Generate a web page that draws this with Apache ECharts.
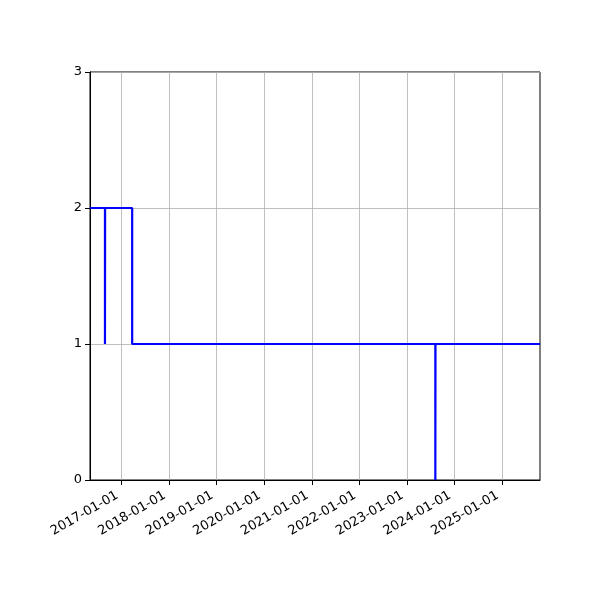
<!DOCTYPE html>
<html>
<head>
<meta charset="utf-8">
<script src="https://cdn.jsdelivr.net/npm/echarts@6/dist/echarts.min.js"></script>
<style>html,body{margin:0;padding:0;background:#fff}#c{width:600px;height:600px}</style>
</head>
<body>
<div id="c"></div>
<script>
var dates = ['2016-05-03','2016-08-26','2016-08-27','2017-03-23','2023-08-08','2023-08-09','2025-10-20'];
var values = [2, 1, 2, 1, 0, 1, 1];
var tickDates = ['2017-01-01','2018-01-01','2019-01-01','2020-01-01','2021-01-01','2022-01-01','2023-01-01','2024-01-01','2025-01-01'];
var yTicks = [0, 1, 2, 3];
var xMin = '2016-05-03', xMax = '2025-10-20';

function ts(s){ return new Date(s + 'T00:00:00Z').getTime(); }
var tickTs = tickDates.map(ts);
var seriesData = dates.map(function(d, i){ return [ts(d), values[i]]; });

var chart = echarts.init(document.getElementById('c'));
chart.setOption({
  animation: false,
  grid: {left: 90, right: 60, top: 72, bottom: 120, show: true, borderColor: '#000', borderWidth: 1, backgroundColor: 'transparent'},
  xAxis: {
    type: 'value', scale: true,
    min: ts(xMin), max: ts(xMax),
    axisLine: {show: true, onZero: false, lineStyle: {color: '#000', width: 1}},
    axisTick: {show: true, customValues: tickTs, length: 5, lineStyle: {color: '#000'}},
    axisLabel: {
      customValues: tickTs, rotate: 30, color: '#000', fontSize: 13, fontFamily: 'DejaVu Sans', margin: 12,
      padding: [0, 5, 0, 0],
      formatter: function(v){ var d = new Date(v); var m = d.getUTCMonth()+1, dd = d.getUTCDate();
        return d.getUTCFullYear() + '-' + (m<10?'0':'') + m + '-' + (dd<10?'0':'') + dd; }
    },
    splitLine: {show: true, lineStyle: {color: '#b0b0b0', width: 0.8}}
  },
  yAxis: {
    type: 'value', min: yTicks[0], max: yTicks[yTicks.length-1], interval: 1,
    axisLine: {show: true, lineStyle: {color: '#000', width: 1}},
    axisTick: {show: true, length: 5, lineStyle: {color: '#000'}},
    axisLabel: {color: '#000', fontSize: 13, fontFamily: 'DejaVu Sans', margin: 8},
    splitLine: {show: true, lineStyle: {color: '#b0b0b0', width: 0.8}}
  },
  series: [{
    type: 'line', step: 'end', data: seriesData, showSymbol: false, symbol: 'none',
    lineStyle: {color: '#0000ff', width: 2.2}, clip: true
  }]
});
</script>
</body>
</html>
